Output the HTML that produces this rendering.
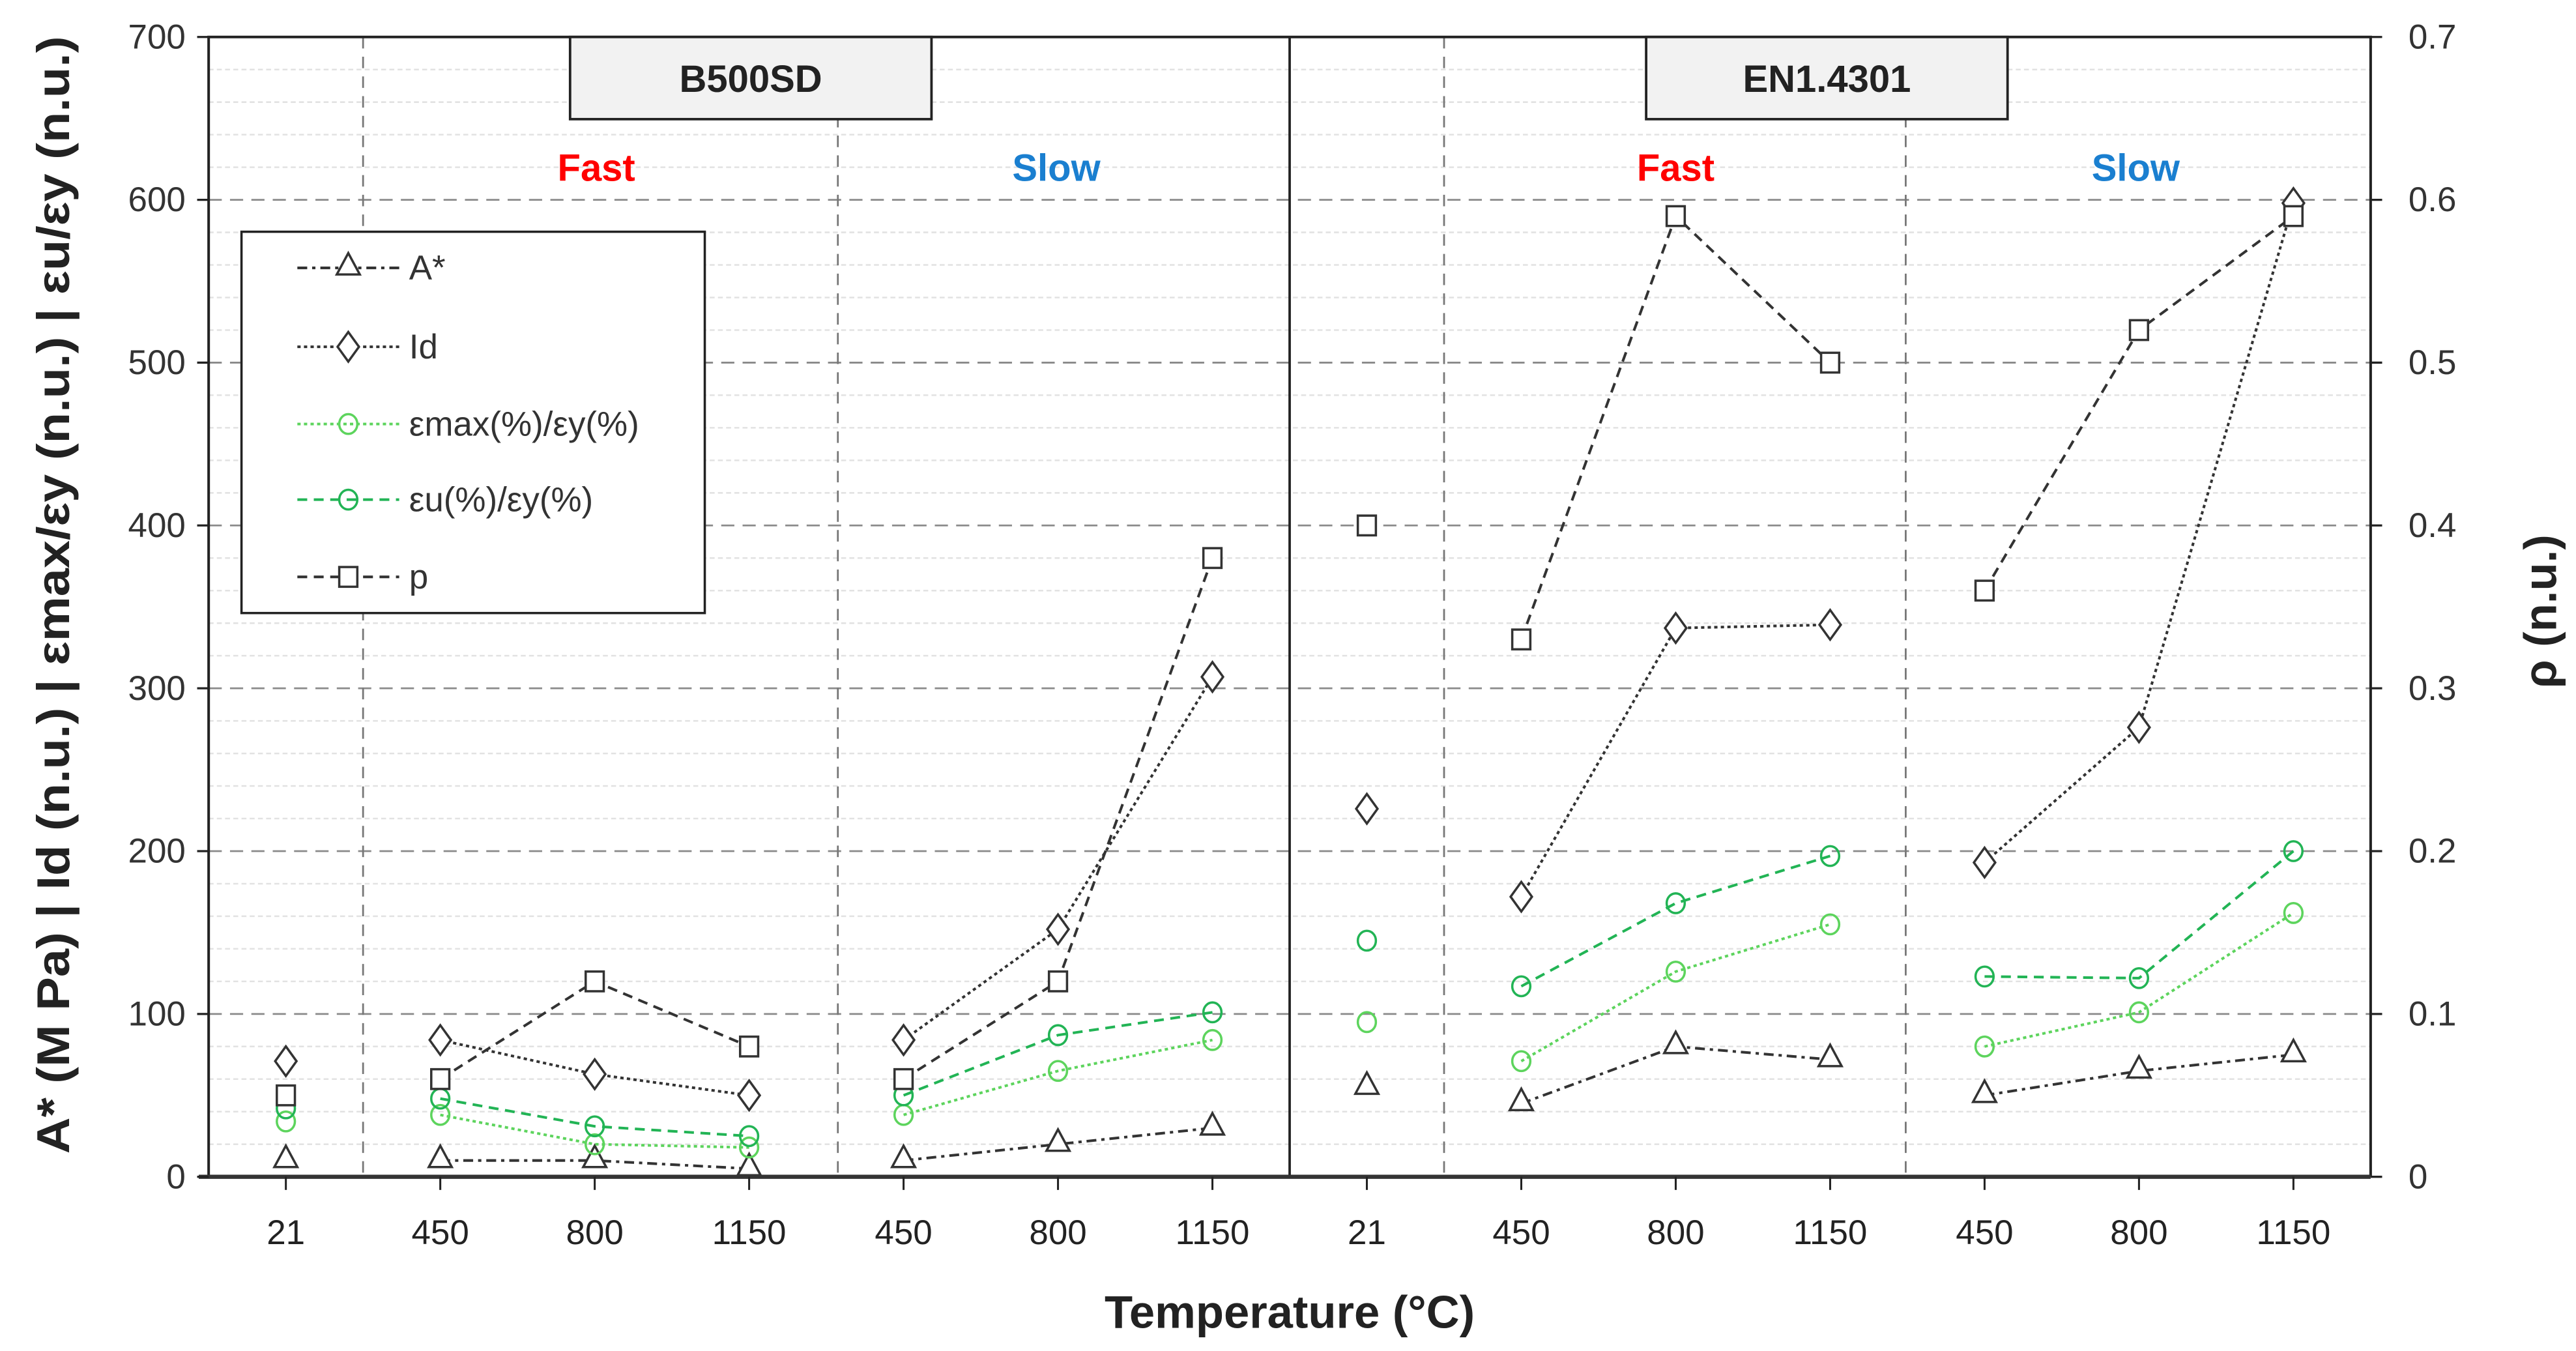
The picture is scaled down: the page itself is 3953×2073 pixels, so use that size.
<!DOCTYPE html>
<html><head><meta charset="utf-8"><style>
html,body{margin:0;padding:0;background:#fff}
svg{display:block}
text{font-family:"Liberation Sans","DejaVu Sans",sans-serif}
</style></head><body>
<svg id="chart" width="3953" height="2073" viewBox="0 0 1568 822" preserveAspectRatio="none" xmlns="http://www.w3.org/2000/svg"></svg>
<script>
const categories = ["21","450","800","1150","450","800","1150","21","450","800","1150","450","800","1150"];
const groups = [[0],[1,2,3],[4,5,6],[7],[8,9,10],[11,12,13]];
const aStar = [10,10,10,5,10,20,30,55,45,80,72,50,65,75];
const idVals = [71,84,63,50,84,152,307,226,172,337,339,193,276,598];
const epsMax = [34,38,20,18,38,65,84,95,71,126,155,80,101,162];
const epsU = [42,48,31,25,50,87,101,145,117,168,197,123,122,200];
const pVals = [0.05,0.06,0.12,0.08,0.06,0.12,0.38,0.40,0.33,0.59,0.50,0.36,0.52,0.59];
const leftTicks = [0,100,200,300,400,500,600,700];
const rightTicks = ["0","0.1","0.2","0.3","0.4","0.5","0.6","0.7"];

const svg = document.getElementById('chart');
const NS = 'http://www.w3.org/2000/svg';
const X0 = 127, X1 = 1443, Y0 = 716, YT = 22.5;
function xs(i){ return X0 + (X1-X0)/categories.length*(i+0.5); }
function ys(v){ return Y0 - (Y0-YT)*v/700; }
function yr(v){ return Y0 - (Y0-YT)*v/0.7; }
function mk(tag, attrs, parent){
  const e = document.createElementNS(NS, tag);
  for (const k in attrs) e.setAttribute(k, attrs[k]);
  (parent||svg).appendChild(e);
  return e;
}

for (let v = 20; v < 700; v += 20) {
  if (v % 100 === 0) continue;
  const g = mk('line',{x1:X0,x2:X1,y1:ys(v),y2:ys(v),stroke:'#e2e2e2','stroke-width':1,'stroke-dasharray':'3 2'});
  
  
}
for (const v of leftTicks) {
  if (v === 0 || v === 700) continue;
  const g = mk('line',{x1:X0,x2:X1,y1:ys(v),y2:ys(v),stroke:'#8a8a8a','stroke-width':1.1,'stroke-dasharray':'8 5'});
  
  
}
[221,510,879,1160].forEach(x=>{
  const l = mk('line',{x1:x,x2:x,y1:YT,y2:Y0,stroke:'#777','stroke-width':1.1,'stroke-dasharray':'7 5'});
  
  
});
const sep = mk('line',{x1:785,x2:785,y1:YT,y2:Y0,stroke:'#222','stroke-width':1.5});



const frame = mk('path',{d:`M${X0} ${Y0} V${YT} H${X1} V${Y0}`,fill:'none',stroke:'#222','stroke-width':1.6});


const xaxis = mk('line',{x1:X0-6,x2:X1,y1:Y0,y2:Y0,stroke:'#333','stroke-width':2.5});



leftTicks.forEach((v,i)=>{
  mk('line',{x1:X0-7,x2:X0,y1:ys(v),y2:ys(v),stroke:'#222','stroke-width':1.3});
  const t = mk('text',{x:113,y:ys(v)+7,'text-anchor':'end','font-size':21,fill:'#333'});
  t.textContent = v;
  
  
  mk('line',{x1:X1,x2:X1+7,y1:ys(v),y2:ys(v),stroke:'#222','stroke-width':1.3});
  const r = mk('text',{x:1466,y:ys(v)+7,'font-size':21,fill:'#333'});
  r.textContent = rightTicks[i];
  
  
});
categories.forEach((c,i)=>{
  mk('line',{x1:xs(i),x2:xs(i),y1:Y0,y2:Y0+8,stroke:'#222','stroke-width':1.2});
  const t = mk('text',{x:xs(i),y:757,'text-anchor':'middle','font-size':21,fill:'#222'});
  t.textContent = c;
  
  
});

const xt = mk('text',{x:785,y:808,'text-anchor':'middle','font-size':28,'font-weight':'bold',fill:'#222'});
xt.textContent = 'Temperature (°C)';


const yt = mk('text',{transform:'translate(42 362) rotate(-90)','text-anchor':'middle','font-size':28,'font-weight':'bold',fill:'#222',textLength:680,lengthAdjust:'spacingAndGlyphs'});
yt.textContent = 'A* (M Pa) | Id (n.u.) | εmax/εy (n.u.) | εu/εy (n.u.)';


const yt2 = mk('text',{transform:'translate(1556 372) rotate(-90)','text-anchor':'middle','font-size':28,'font-weight':'bold',fill:'#222'});
yt2.textContent = 'ρ (n.u.)';



[['B500SD',347],['EN1.4301',1002]].forEach(([lab,x])=>{
  const r = mk('rect',{x:x,y:YT,width:220,height:50,fill:'#f2f2f2',stroke:'#222','stroke-width':1.5});
  
  
  const t = mk('text',{x:x+110,y:56,'text-anchor':'middle','font-size':23,'font-weight':'bold',fill:'#222'});
  t.textContent = lab;
  
  
});
[['Fast',363,'#ff0000'],['Slow',643,'#1a7fd0'],['Fast',1020,'#ff0000'],['Slow',1300,'#1a7fd0']].forEach(([lab,x,c])=>{
  const t = mk('text',{x:x,y:110,'text-anchor':'middle','font-size':23,'font-weight':'bold',fill:c});
  t.textContent = lab;
  
  
});

function marker(type, x, y, color, parent){
  if (type==='tri') return mk('path',{d:`M${x} ${y-9} L${x+7} ${y+4} L${x-7} ${y+4} Z`,fill:'#fff',stroke:color,'stroke-width':1.4},parent);
  if (type==='dia') return mk('path',{d:`M${x} ${y-9} L${x+6.5} ${y} L${x} ${y+9} L${x-6.5} ${y} Z`,fill:'#fff',stroke:color,'stroke-width':1.4},parent);
  if (type==='cir') return mk('ellipse',{cx:x,cy:y,rx:5.5,ry:6,fill:'none',stroke:color,'stroke-width':1.4},parent);
  return mk('rect',{x:x-5.5,y:y-6,width:11,height:12,fill:'#fff',stroke:color,'stroke-width':1.4},parent);
}
const series = [
  {name:'a-star', vals:aStar, y:ys, color:'#333', dash:'6 3 2 3', type:'tri', label:'A*'},
  {name:'id', vals:idVals, y:ys, color:'#333', dash:'2 2', type:'dia', label:'Id'},
  {name:'eps-max', vals:epsMax, y:ys, color:'#5dd45d', dash:'2 2', type:'cir', label:'εmax(%)/εy(%)'},
  {name:'eps-u', vals:epsU, y:ys, color:'#22b455', dash:'6 4', type:'cir', label:'εu(%)/εy(%)'},
  {name:'p', vals:pVals, y:yr, color:'#333', dash:'6 4', type:'sq', label:'p'}
];
series.forEach(s=>{
  const g = mk('g',{});
  
  
  groups.forEach(gr=>{
    if (gr.length < 2) return;
    const pts = gr.map(i=>xs(i)+','+s.y(s.vals[i])).join(' ');
    const l = mk('polyline',{points:pts,fill:'none',stroke:s.color,'stroke-width':1.6,'stroke-dasharray':s.dash},g);
    
    
  });
  s.vals.forEach((v,i)=>{
    const m = marker(s.type, xs(i), s.y(v), s.color, g);
    
    
  });
});

const lg = mk('g',{});


mk('rect',{x:147,y:141,width:282,height:232,fill:'#fff',stroke:'#222','stroke-width':1.4},lg);
const ly = [163,211,258,304,351];
series.forEach((s,k)=>{
  const e = mk('g',{},lg);
  
  
  mk('line',{x1:181,x2:243,y1:ly[k],y2:ly[k],stroke:s.color,'stroke-width':1.6,'stroke-dasharray':s.dash},e);
  marker(s.type, 212, ly[k], s.color, e);
  const t = mk('text',{x:249,y:ly[k]+7,'font-size':21,fill:'#333'},e);
  t.textContent = s.label;
});
</script>
</body></html>
